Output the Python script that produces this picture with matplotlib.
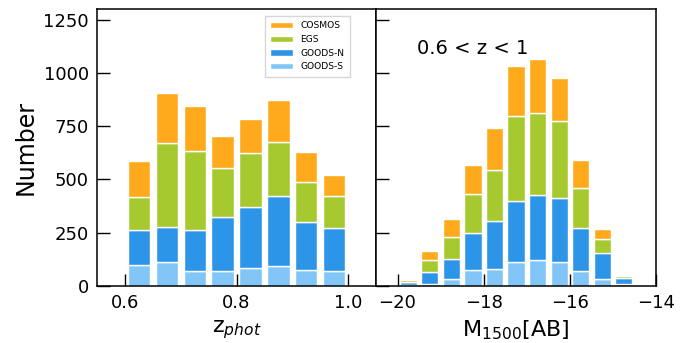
import matplotlib

matplotlib.use("Agg")
import matplotlib.pyplot as plt
import numpy as np

FIELDS = ["COSMOS", "EGS", "GOODS-N", "GOODS-S"]
COLORS = {"COSMOS": "#ffaa1c", "EGS": "#a6c930", "GOODS-N": "#2d95e8", "GOODS-S": "#82c6f8"}

# redshift bins (centres), counts per field
z_centers = [0.625, 0.675, 0.725, 0.775, 0.825, 0.875, 0.925, 0.975]
z_goods_s = [97, 111, 72, 70, 87, 92, 75, 70]
z_goods_n = [165, 164, 193, 255, 283, 331, 226, 202]
z_egs = [156, 396, 370, 229, 253, 253, 189, 151]
z_cosmos = [170, 233, 209, 148, 160, 195, 140, 97]

# UV magnitude bins (centres), counts per field
m_centers = [-19.75, -19.25, -18.75, -18.25, -17.75, -17.25, -16.75, -16.25, -15.75, -15.25, -14.75]
m_goods_s = [6, 12, 34, 76, 81, 111, 122, 111, 70, 34, 9]
m_goods_n = [11, 52, 92, 171, 225, 290, 307, 304, 202, 119, 30]
m_egs = [3, 58, 102, 184, 240, 398, 381, 361, 190, 69, 8]
m_cosmos = [8, 42, 87, 139, 197, 231, 254, 199, 131, 48, 2]


def stacked(ax, x, layers, width):
    bottom = np.zeros(len(x))
    for name in ["GOODS-S", "GOODS-N", "EGS", "COSMOS"]:
        vals = np.array(layers[name], dtype=float)
        ax.bar(x, vals, width=width, bottom=bottom, color=COLORS[name],
               edgecolor="white", linewidth=1.0, label=name)
        bottom += vals


fig = plt.figure(figsize=(6.95, 3.43), dpi=100)
ax1 = fig.add_axes([0.1396, 0.166, 0.4014, 0.808])
ax2 = fig.add_axes([0.5410, 0.166, 0.4030, 0.808], sharey=ax1)

stacked(ax1, z_centers, {"GOODS-S": z_goods_s, "GOODS-N": z_goods_n,
                         "EGS": z_egs, "COSMOS": z_cosmos}, 0.04)
stacked(ax2, m_centers, {"GOODS-S": m_goods_s, "GOODS-N": m_goods_n,
                         "EGS": m_egs, "COSMOS": m_cosmos}, 0.4)

ax1.set_xlim(0.55, 1.05)
ax1.set_ylim(0, 1300)
ax1.set_xticks([0.6, 0.8, 1.0])
ax1.set_yticks([0, 250, 500, 750, 1000, 1250])
ax1.set_xlabel(r"z$_{phot}$", fontsize=16)
ax1.set_ylabel("Number", fontsize=17)

ax2.set_xlim(-20.5, -14)
ax2.set_xticks([-20, -18, -16, -14])
ax2.set_xticklabels(["\u221220", "\u221218", "\u221216", "\u221214"])
ax2.set_xlabel(r"M$_{1500}$[AB]", fontsize=16)
ax2.tick_params(axis="y", labelleft=False)
ax2.text(0.145, 0.856, "0.6 < z < 1", transform=ax2.transAxes, fontsize=14, va="center")

for ax in (ax1, ax2):
    ax.tick_params(direction="in", length=9, width=1, labelsize=13, pad=6)
    for sp in ax.spines.values():
        sp.set_linewidth(1.1)

handles, labels = ax1.get_legend_handles_labels()
order = [3, 2, 1, 0]
ax1.legend([handles[i] for i in order], [labels[i] for i in order],
           loc="upper right", fontsize=6.6, frameon=True, fancybox=False,
           borderpad=0.6, handlelength=2.5, borderaxespad=0,
           bbox_to_anchor=(0.907, 0.975))

fig.savefig("out.png", dpi=100)
